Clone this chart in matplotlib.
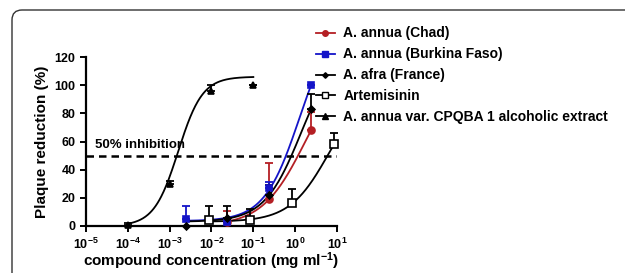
import numpy as np
import matplotlib
matplotlib.use("Agg")
import matplotlib.pyplot as plt
from matplotlib.lines import Line2D
from matplotlib.patches import FancyBboxPatch

plt.rcParams['font.family'] = ['Liberation Sans', 'DejaVu Sans']
plt.rcParams['font.weight'] = 'bold'
plt.rcParams['mathtext.fontset'] = 'custom'
plt.rcParams['mathtext.rm'] = 'Liberation Sans:bold'
plt.rcParams['mathtext.bf'] = 'Liberation Sans:bold'
plt.rcParams['mathtext.it'] = 'Liberation Sans:bold'
plt.rcParams['mathtext.default'] = 'rm'

# Data (mean, upper error)
names = ["A. annua (Chad)", "A. annua (Burkina Faso)", "A. afra (France)",
         "Artemisinin", "A. annua var. CPQBA 1 alcoholic extract"]
colors = ["#b41f24", "#1414c8", "black", "black", "black"]
markers = ["o", "s", "D", "s", "^"]
msizes = [5, 5, 3.5, 6, 5]
faces = ["#b41f24", "#1414c8", "black", "white", "black"]

chad_x = [0.024, 0.24, 2.4]
chad_y = [3, 19, 68]
chad_err = [8, 26, 13]

burkina_x = [0.0024, 0.024, 0.24, 2.4]
burkina_y = [5, 3, 27, 100]
burkina_err = [9, 1, 4, 0]

afra_x = [0.0024, 0.024, 0.24, 2.4]
afra_y = [0, 6, 22, 83]
afra_err = [0, 8, 7, 11]

artemisinin_x = [0.0085, 0.085, 0.85, 8.5]
artemisinin_y = [4, 4, 16, 58]
artemisinin_err = [10, 8, 10, 8]

cpqba_x = [0.0001, 0.001, 0.01, 0.1]
cpqba_y = [1, 30, 96, 100]
cpqba_err = [1, 2, 4, 0]

# fitted 4-parameter logistic curves: bottom, top, EC50, hill slope
fit_bottom = [0, 3.5, 3, 3, 0]
fit_top = [120, 150, 130, 100, 106]
fit_ec50 = [1.75, 1.27, 1.40, 6.36, 0.0016]
fit_hill = [0.84, 1.03, 0.985, 0.927, 1.5]

xs = [chad_x, burkina_x, afra_x, artemisinin_x, cpqba_x]
ys = [chad_y, burkina_y, afra_y, artemisinin_y, cpqba_y]
errs = [chad_err, burkina_err, afra_err, artemisinin_err, cpqba_err]

fig = plt.figure(figsize=(6.25, 2.73), dpi=100)
ax = fig.add_axes([86 / 625, 1 - 226 / 273, (337 - 86) / 625, (226 - 57) / 273])

for i in range(len(names)):
    x = np.array(xs[i])
    xc = np.logspace(np.log10(x.min()), np.log10(x.max()), 200)
    yc = fit_bottom[i] + (fit_top[i] - fit_bottom[i]) / (1 + (fit_ec50[i] / xc) ** fit_hill[i])
    ax.plot(xc, yc, color=colors[i], lw=1.3, zorder=2)
    ax.errorbar(x, ys[i], yerr=[np.zeros(len(x)), errs[i]], fmt='none',
                ecolor=colors[i], elinewidth=1.3, capsize=3, capthick=1.3, zorder=3)
    ax.plot(x, ys[i], linestyle='none', marker=markers[i], ms=msizes[i],
            mfc=faces[i], mec=colors[i], mew=1.2, zorder=4, clip_on=False)

ax.axhline(50, color='black', lw=1.8, ls=(0, (3, 2)), zorder=1)
ax.text(1.6e-5, 53, "50% inhibition", fontsize=9.5, fontweight='bold', va='bottom')

ax.set_xscale('log')
ax.set_xlim(1e-5, 10)
ax.set_ylim(0, 120)
ax.set_yticks([0, 20, 40, 60, 80, 100, 120])
ax.set_xticks([1e-5, 1e-4, 1e-3, 1e-2, 1e-1, 1, 10])
ax.set_xticklabels(["10$^{-5}$", "10$^{-4}$", "10$^{-3}$", "10$^{-2}$",
                    "10$^{-1}$", "10$^{0}$", "10$^{1}$"])
for s in ['top', 'right']:
    ax.spines[s].set_visible(False)
for s in ['left', 'bottom']:
    ax.spines[s].set_linewidth(1.6)
ax.tick_params(which='major', direction='out', length=4, width=1.4, labelsize=9)
ax.tick_params(which='minor', direction='out', length=2.5, width=1.0)
ax.set_xlabel("compound concentration (mg ml$^{-1}$)", fontsize=11,
              fontweight='bold', labelpad=-1)
ax.set_ylabel("Plaque reduction (%)", fontsize=11, fontweight='bold', labelpad=4)

handles = [Line2D([], [], color=colors[i], marker=markers[i], ms=msizes[i] * 0.8,
                  mfc=faces[i], mec=colors[i], lw=1.3) for i in range(len(names))]
fig.legend(handles, names, loc='upper left', bbox_to_anchor=(303 / 625, 1 - 14 / 273),
           frameon=False, handlelength=1.4, handletextpad=0.6,
           labelspacing=0.5, prop={'weight': 'bold', 'size': 10})

# card frame with rounded top-left corner
frame = FancyBboxPatch((0.12, -0.5), 7, 2.63 + 0.5, boxstyle="round,pad=0,rounding_size=0.1",
                       transform=fig.dpi_scale_trans, fill=False, ec='#333333', lw=1.0)
fig.add_artist(frame)

fig.savefig("out.png", dpi=100)
